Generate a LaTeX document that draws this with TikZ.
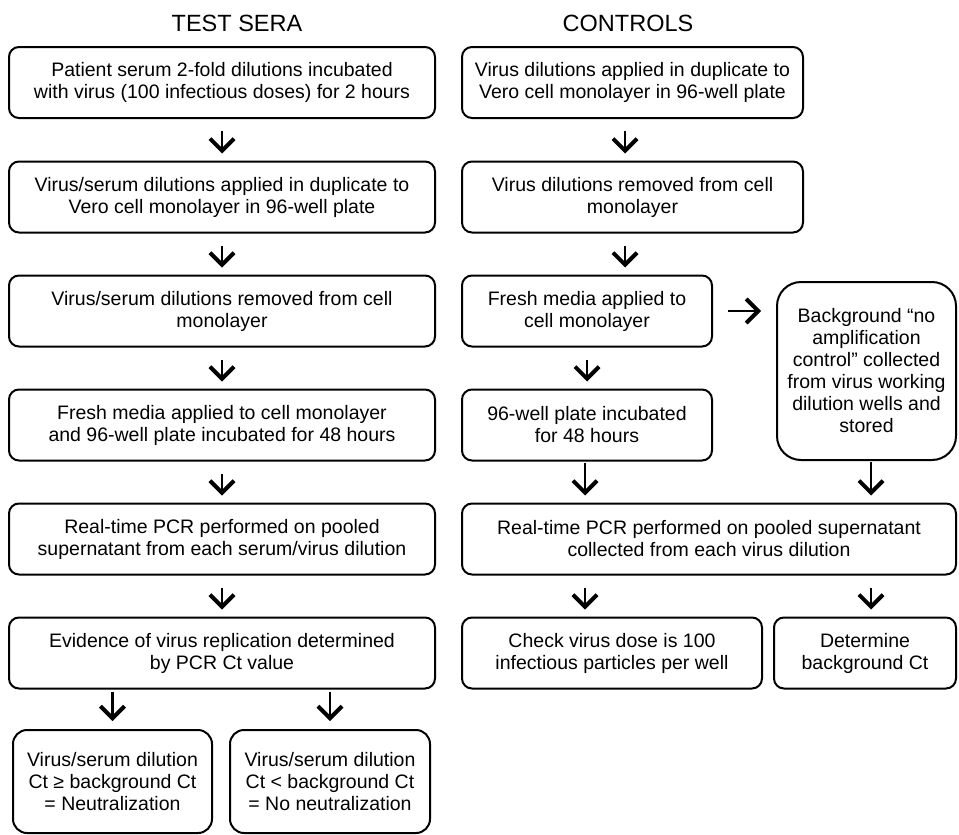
\documentclass[tikz,border=0pt]{standalone}
\usepackage{fontspec}
\setmainfont{Liberation Sans}
\usetikzlibrary{arrows.meta}
\begin{document}
\begin{tikzpicture}[x=1pt,y=-1pt,
  box/.style={draw, line width=2pt, rounded corners=10pt, align=center, inner sep=0pt,
    font=\fontsize{19.5}{22}\selectfont},
  hdr/.style={font=\fontsize{23.5}{26}\selectfont},
  arr/.style={line width=2.8pt, -{Straight Barb[length=12pt,width=24pt,line width=4pt]}, shorten <=12pt, shorten >=7pt}]
\useasboundingbox (0,0) rectangle (959,835);
% helper x positions
\coordinate (rc) at (625,0);
\coordinate (rl) at (585,0);
\coordinate (rr) at (871,0);
% headers
\node[hdr] (h1) at (237,23) {TEST SERA};
\node[hdr] (h2) at (628,23) {CONTROLS};
% left column
\node[box, minimum width=426pt, minimum height=71pt] (L1) at (222,82.5) {Patient serum 2-fold dilutions incubated\\with virus (100 infectious doses) for 2 hours};
\node[box, minimum width=426pt, minimum height=71pt] (L2) at (222,197) {Virus/serum dilutions applied in duplicate to\\Vero cell monolayer in 96-well plate};
\node[box, minimum width=426pt, minimum height=71pt] (L3) at (222,311) {Virus/serum dilutions removed from cell\\monolayer};
\node[box, minimum width=426pt, minimum height=71pt] (L4) at (222,425) {Fresh media applied to cell monolayer\\and 96-well plate incubated for 48 hours};
\node[box, minimum width=426pt, minimum height=71pt] (L5) at (222,539) {Real-time PCR performed on pooled\\supernatant from each serum/virus dilution};
\node[box, minimum width=426pt, minimum height=71pt] (L6) at (222,653) {Evidence of virus replication determined\\by PCR Ct value};
\node[box, minimum width=199pt, minimum height=103pt, rounded corners=14pt] (L7a) at (112.5,781.5) {Virus/serum dilution\\Ct ≥ background Ct\\= Neutralization};
\node[box, minimum width=200pt, minimum height=103pt, rounded corners=14pt] (L7b) at (330,781.5) {Virus/serum dilution\\Ct < background Ct\\= No neutralization};
% right column
\node[box, minimum width=341pt, minimum height=71pt] (R1) at (632.5,82.5) {Virus dilutions applied in duplicate to\\Vero cell monolayer in 96-well plate};
\node[box, minimum width=341pt, minimum height=71pt] (R2) at (632.5,197) {Virus dilutions removed from cell\\monolayer};
\node[box, minimum width=250pt, minimum height=71pt] (R3) at (587,311) {Fresh media applied to\\cell monolayer};
\node[box, minimum width=250pt, minimum height=71pt] (R4) at (587,425) {96-well plate incubated\\for 48 hours};
\node[box, minimum width=179pt, minimum height=178pt, rounded corners=24pt] (BG) at (866.5,371) {Background “no\\amplification\\control” collected\\from virus working\\dilution wells and\\stored};
\node[box, minimum width=494pt, minimum height=71pt] (R5) at (709,539) {Real-time PCR performed on pooled supernatant\\collected from each virus dilution};
\node[box, minimum width=300pt, minimum height=71pt] (R6) at (612,653) {Check virus dose is 100\\infectious particles per well};
\node[box, minimum width=182pt, minimum height=71pt] (R7) at (865,653) {Determine\\background Ct};
% arrows left
\draw[arr] (L1) -- (L2);
\draw[arr] (L2) -- (L3);
\draw[arr] (L3) -- (L4);
\draw[arr] (L4) -- (L5);
\draw[arr] (L5) -- (L6);
\draw[arr, shorten <=2pt, shorten >=8pt] (L6.south -| L7a) -- (L7a.north);
\draw[arr, shorten <=2pt, shorten >=8pt] (L6.south -| L7b) -- (L7b.north);
% arrows right
\draw[arr] (R1.south -| rc) -- (R2.north -| rc);
\draw[arr] (R2.south -| rc) -- (R3.north -| rc);
\draw[arr] (R3) -- (R4);
\draw[arr, shorten <=15pt, shorten >=15pt] (R3.east) -- (R3.east -| BG.west);
\draw[arr, shorten <=1pt, shorten >=7pt] (R4.south -| rl) -- (R5.north -| rl);
\draw[arr, shorten <=1pt, shorten >=7pt] (BG.south -| rr) -- (R5.north -| rr);
\draw[arr] (R5.south -| rl) -- (R6.north -| rl);
\draw[arr] (R5.south -| rr) -- (R7.north -| rr);
\end{tikzpicture}
\end{document}
